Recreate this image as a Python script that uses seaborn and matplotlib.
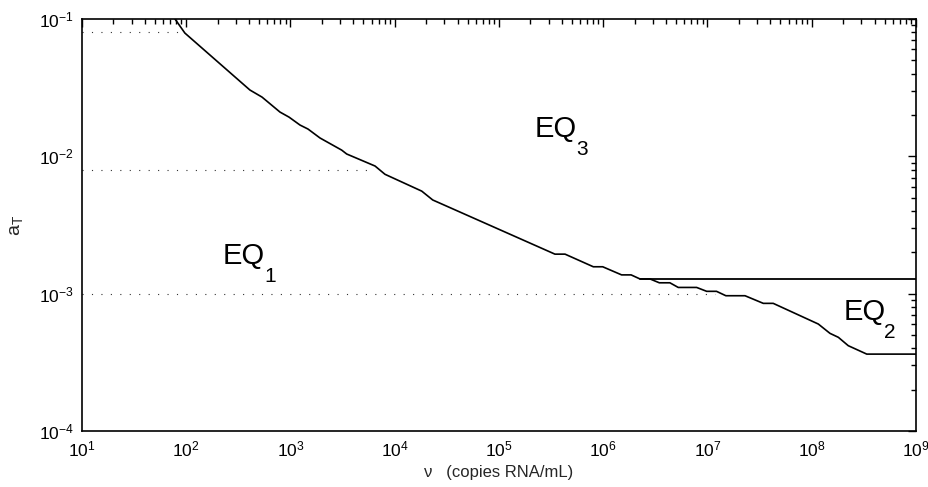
import matplotlib
matplotlib.use("Agg")
import matplotlib.pyplot as plt
import seaborn as sns
import pandas as pd
from matplotlib.ticker import FixedLocator, NullFormatter, FixedFormatter

# ---- data ----
curve_x = [78, 97, 408, 533, 793, 968, 1233, 1472, 1919, 3097, 3459, 6471, 8060,
           18150, 23140, 344000, 430000, 803000, 988000, 1.50e6, 1.85e6, 2.25e6,
           2.81e6, 3.45e6, 4.36e6, 5.24e6, 7.87e6, 9.82e6, 1.22e7, 1.50e7, 2.29e7,
           3.43e7, 4.27e7, 1.156e8, 1.496e8, 1.80e8, 2.24e8, 3.37e8, 1e9]
curve_y = [0.1, 0.079, 0.0304, 0.027, 0.021, 0.0193, 0.0169, 0.0158, 0.0136,
           0.0111, 0.0104, 0.0085, 0.0074, 0.00558, 0.00481, 0.00194, 0.00194,
           0.00157, 0.00157, 0.00137, 0.00137, 0.00128, 0.00128, 0.0012, 0.0012,
           0.00111, 0.00111, 0.00104, 0.00104, 0.000966, 0.000966, 0.00085,
           0.00085, 0.000601, 0.000514, 0.000481, 0.000418, 0.000363, 0.000363]
flat_x = [2.25e6, 1e9]
flat_y = [0.00128, 0.00128]
dotted_levels = [0.08, 0.008, 0.001]
dotted_start = [10, 10, 10]
dotted_end = [97, 6000, 1.17e7]
region_names = ["EQ", "EQ", "EQ"]
region_subs = ["1", "3", "2"]
region_x = [225, 2.21e5, 2.0e8]
region_y = [0.00164, 0.0138, 0.000643]
x_exponents = [1, 2, 3, 4, 5, 6, 7, 8, 9]
y_exponents = [-4, -3, -2, -1]
x_label = "ν   (copies RNA/mL)"
y_label = "a$_T$"

sns.set_theme(style="white")
plt.rcParams["font.family"] = ["Liberation Sans", "DejaVu Sans"]
plt.rcParams["mathtext.fontset"] = "custom"
plt.rcParams["mathtext.rm"] = "Liberation Sans"
plt.rcParams["mathtext.it"] = "Liberation Sans"
plt.rcParams["mathtext.default"] = "regular"

fig = plt.figure(figsize=(9.29, 4.87), dpi=100)
ax = fig.add_axes([82 / 929, 1 - 431 / 487, (916 - 82) / 929, (431 - 19) / 487])

df_curve = pd.DataFrame({"x": curve_x, "y": curve_y})
sns.lineplot(data=df_curve, x="x", y="y", sort=False, estimator=None,
             color="black", linewidth=1.2, ax=ax)
df_flat = pd.DataFrame({"x": flat_x, "y": flat_y})
sns.lineplot(data=df_flat, x="x", y="y", sort=False, estimator=None,
             color="black", linewidth=1.3, ax=ax)
for lvl, s, e in zip(dotted_levels, dotted_start, dotted_end):
    d = pd.DataFrame({"x": [s, e], "y": [lvl, lvl]})
    sns.lineplot(data=d, x="x", y="y", sort=False, estimator=None, color="#333333",
                 linewidth=0.8, linestyle=(0, (1, 7.5)), ax=ax)

ax.set_xscale("log")
ax.set_yscale("log")
ax.set_xlim(10, 1e9)
ax.set_ylim(1e-4, 1e-1)

xmaj = [10.0 ** e for e in x_exponents]
ymaj = [10.0 ** e for e in y_exponents]
xmin = [m * 10.0 ** e for e in x_exponents[:-1] for m in range(2, 10)]
ymin = [m * 10.0 ** e for e in y_exponents[:-1] for m in range(2, 10)]
ax.xaxis.set_major_locator(FixedLocator(xmaj))
ax.xaxis.set_major_formatter(FixedFormatter([f"$10^{{{e}}}$" for e in x_exponents]))
ax.xaxis.set_minor_locator(FixedLocator(xmin))
ax.xaxis.set_minor_formatter(NullFormatter())
ax.yaxis.set_major_locator(FixedLocator(ymaj))
ax.yaxis.set_major_formatter(FixedFormatter([f"$10^{{{e}}}$" for e in y_exponents]))
ax.yaxis.set_minor_locator(FixedLocator(ymin))
ax.yaxis.set_minor_formatter(NullFormatter())

ax.tick_params(which="both", direction="in", top=True, right=True, colors="black",
               width=1.0)
ax.tick_params(which="major", length=6, labelsize=12.5, pad=6)
ax.tick_params(which="minor", length=3.5)
for sp in ax.spines.values():
    sp.set_color("black")
    sp.set_linewidth(1.2)

for name, sub, x, y in zip(region_names, region_subs, region_x, region_y):
    ax.text(x, y, name, fontsize=21, color="black", ha="left", va="baseline")
    ax.annotate(sub, xy=(x, y), xycoords="data", xytext=(29.5, -13),
                textcoords="offset points", fontsize=15, color="black",
                ha="left", va="baseline")

ax.set_xlabel(x_label, fontsize=12, labelpad=4)
ax.set_ylabel(y_label, fontsize=14, labelpad=10)

fig.savefig("out.png", dpi=100, facecolor="white")
